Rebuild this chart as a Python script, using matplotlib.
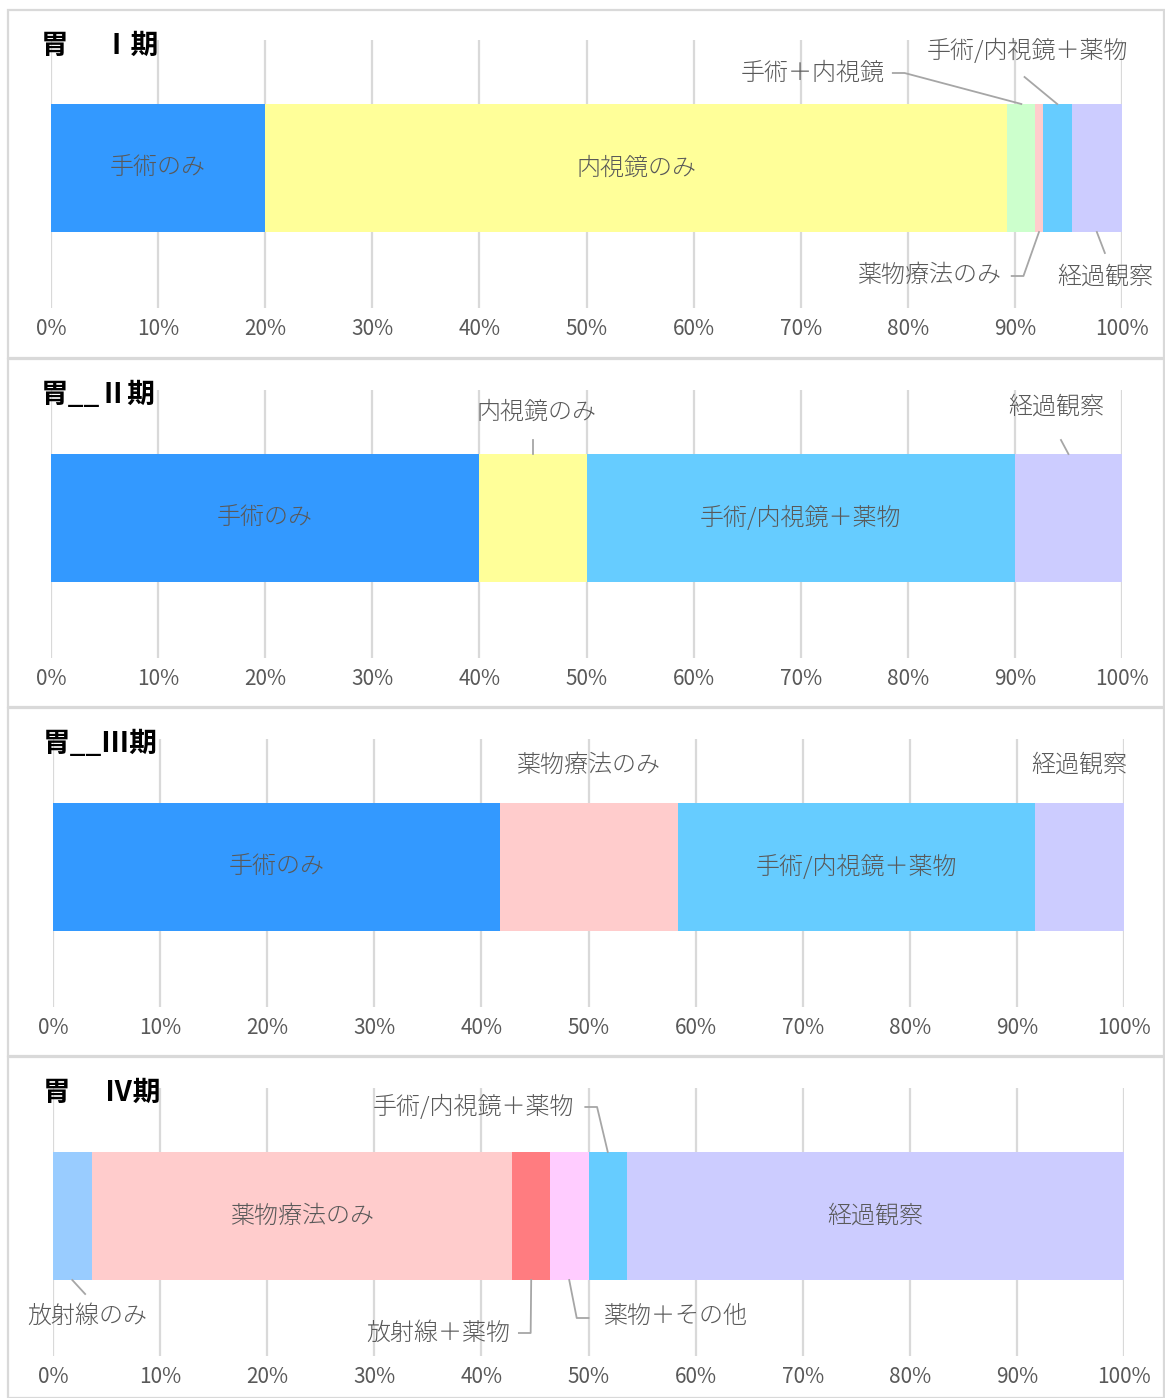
import numpy as np
import matplotlib
matplotlib.use("Agg")
import matplotlib.pyplot as plt
from matplotlib.lines import Line2D
from matplotlib.patches import Rectangle

plt.rcParams['font.family'] = ['Noto Sans CJK JP', 'DejaVu Sans']

W, H = 1165, 1398

# ---- data (percent of cases) ----
titles = ["胃　 Ⅰ期", "胃__Ⅱ期", "胃__Ⅲ期", "胃　 Ⅳ期"]

p1_names = ["手術のみ", "内視鏡のみ", "手術＋内視鏡", "薬物療法のみ", "手術/内視鏡＋薬物", "経過観察"]
p1_values = [20.0, 69.3, 2.6, 0.7, 2.7, 4.7]

p2_names = ["手術のみ", "内視鏡のみ", "手術/内視鏡＋薬物", "経過観察"]
p2_values = [40.0, 10.0, 40.0, 10.0]

p3_names = ["手術のみ", "薬物療法のみ", "手術/内視鏡＋薬物", "経過観察"]
p3_values = [41.7, 16.7, 33.3, 8.3]

p4_names = ["放射線のみ", "薬物療法のみ", "放射線＋薬物", "薬物＋その他", "手術/内視鏡＋薬物", "経過観察"]
p4_values = [3.6, 39.3, 3.5, 3.6, 3.6, 46.4]

tick_values = list(range(0, 101, 10))
tick_labels = [f"{v}%" for v in tick_values]

colors = {
    "手術のみ": "#3399FF",
    "内視鏡のみ": "#FFFF99",
    "手術＋内視鏡": "#CCFFCC",
    "薬物療法のみ": "#FFCCCC",
    "手術/内視鏡＋薬物": "#66CCFF",
    "経過観察": "#CCCCFF",
    "放射線のみ": "#99CCFF",
    "放射線＋薬物": "#FF7C80",
    "薬物＋その他": "#FFCCFF",
}

GREY_TXT = "#595959"
LEAD = "#A6A6A6"
GRID = "#D9D9D9"

# layout: (axes left px, gridline top px, title x, title y, frame top, frame bottom)
panels = [
    (p1_names, p1_values, 51, 40, 41, 46, 10, 358),
    (p2_names, p2_values, 51, 390, 41, 395, 359, 707),
    (p3_names, p3_values, 53, 739, 43, 744, 708, 1056),
    (p4_names, p4_values, 53, 1088, 43, 1093, 1057, 1398),
]

# labels: name -> ("in",) or ("out", text_x, text_y, ha, [line pts...], edge)
# coordinates in (%, px above axes bottom)
label_spec = [
    {
        "手術のみ": ("in",),
        "内視鏡のみ": ("in",),
        "手術＋内視鏡": ("out", 77.8, 235, "right", [(78.6, 235), (79.7, 235)], "top"),
        "手術/内視鏡＋薬物": ("out", 91.2, 257, "center", [(90.9, 231)], "top"),
        "薬物療法のみ": ("out", 88.7, 33, "right", [(89.7, 32), (90.8, 32)], "bottom"),
        "経過観察": ("out", 98.4, 31, "center", [(98.4, 55)], "bottom"),
    },
    {
        "手術のみ": ("in",),
        "内視鏡のみ": ("out", 45.3, 246, "center", [(45.0, 218)], "top"),
        "手術/内視鏡＋薬物": ("in",),
        "経過観察": ("out", 93.9, 251, "center", [(94.3, 218)], "top"),
    },
    {
        "手術のみ": ("in",),
        "薬物療法のみ": ("out", 50.0, 242, "center", [], "top"),
        "手術/内視鏡＋薬物": ("in",),
        "経過観察": ("out", 95.8, 242, "center", [], "top"),
    },
    {
        "放射線のみ": ("out", 3.2, 40, "center", [(3.0, 62)], "bottom"),
        "薬物療法のみ": ("in",),
        "放射線＋薬物": ("out", 42.7, 23, "right", [(43.5, 23), (44.6, 23)], "bottom"),
        "薬物＋その他": ("out", 51.4, 40, "left", [(50.0, 38), (48.9, 38)], "bottom"),
        "手術/内視鏡＋薬物": ("out", 48.7, 249, "right", [(49.7, 249), (50.8, 249)], "top"),
        "経過観察": ("in",),
    },
]

AX_W = 1071  # px for 0..100%
AX_H = 268
BAR_Y = 140
BAR_H = 128
LABEL_FS = 17.3

fig = plt.figure(figsize=(W / 100, H / 100), dpi=100)

# panel frames
for p in panels:
    ftop, fbot = p[6], p[7]
    fig.patches.append(Rectangle((8 / W, 1 - fbot / H), (W - 9) / W, (fbot - ftop) / H,
                                 transform=fig.transFigure, fill=False,
                                 edgecolor=GRID, linewidth=1.6))

for (names, values, left, top, tx, ty, _, _), spec, title in zip(panels, label_spec, titles):
    ax = fig.add_axes([left / W, 1 - (top + AX_H) / H, AX_W / W, AX_H / H])
    ax.set_xlim(0, 100)
    ax.set_ylim(0, AX_H)
    starts = np.concatenate([[0], np.cumsum(values)[:-1]])
    for name, v, s in zip(names, values, starts):
        ax.barh(BAR_Y, v, left=s, height=BAR_H, color=colors[name], zorder=2)
        mid = s + v / 2
        lab = spec.get(name)
        if lab is None:
            continue
        if lab[0] == "in":
            ax.text(mid, BAR_Y, name, ha="center", va="center", fontsize=LABEL_FS,
                    color=GREY_TXT, fontweight="light", zorder=3)
        else:
            _, lx, ly, ha, pts, edge = lab
            ax.text(lx, ly, name, ha=ha, va="center", fontsize=LABEL_FS, color=GREY_TXT,
                    fontweight="light", zorder=3, clip_on=False)
            if pts:
                ey = BAR_Y + BAR_H / 2 if edge == "top" else BAR_Y - BAR_H / 2
                xs = [p[0] for p in pts] + [mid]
                ys = [p[1] for p in pts] + [ey]
                ax.add_line(Line2D(xs, ys, color=LEAD, linewidth=1.3, clip_on=False, zorder=3))

    ax.set_xticks(tick_values)
    ax.set_xticklabels(tick_labels, fontsize=15, color=GREY_TXT)
    ax.set_yticks([])
    ax.tick_params(axis="x", length=0, pad=7)
    ax.grid(axis="x", color=GRID, linewidth=1.6, zorder=0)
    ax.set_axisbelow(True)
    for sp in ax.spines.values():
        sp.set_visible(False)

    fig.text(tx / W, 1 - ty / H, title, ha="left", va="center", fontsize=20,
             fontweight="bold", color="black")

fig.savefig("out.png", dpi=100)
